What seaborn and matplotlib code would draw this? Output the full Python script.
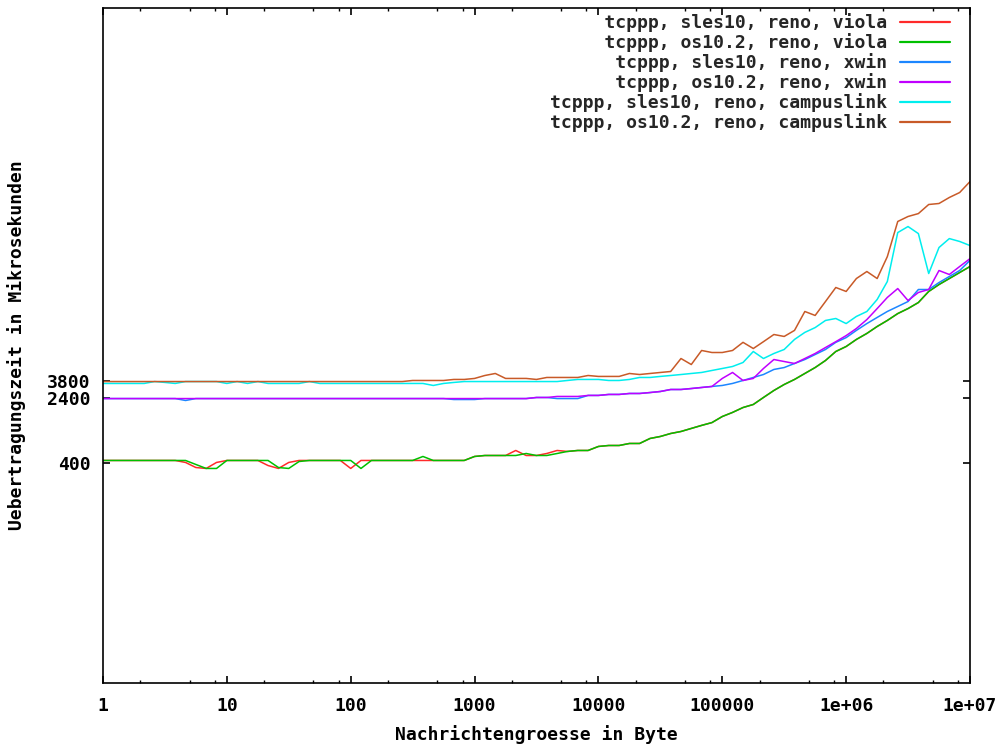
import matplotlib
matplotlib.use("Agg")
import matplotlib.pyplot as plt
import numpy as np
import pandas as pd
import seaborn as sns
from matplotlib.ticker import FixedLocator, FixedFormatter, NullLocator

# message sizes (bytes)
sizes = [
    1, 1.21, 1.47, 1.78, 2.15, 2.61, 3.16, 3.83, 4.64, 5.62, 6.81, 8.25,
    10, 12.1, 14.7, 17.8, 21.5, 26.1, 31.6, 38.3, 46.4, 56.2, 68.1, 82.5,
    100, 121, 147, 178, 215, 261, 316, 383, 464, 562, 681, 825,
    1000, 1210, 1470, 1780, 2150, 2610, 3160, 3830, 4640, 5620, 6810, 8250,
    10000, 12100, 14700, 17800, 21500, 26100, 31600, 38300, 46400, 56200, 68100, 82500,
    100000, 121000, 147000, 178000, 215000, 261000, 316000, 383000, 464000, 562000, 681000, 825000,
    1000000, 1210000, 1470000, 1780000, 2150000, 2610000, 3160000, 3830000, 4640000, 5620000, 6810000, 8250000,
    10000000,
]

sles10_viola = [
    434, 434, 434, 434, 434, 434, 434, 434, 411, 358, 349, 411,
    434, 434, 434, 434, 378, 349, 411, 434, 434, 434, 434, 434,
    349, 434, 434, 434, 434, 434, 434, 434, 434, 434, 434, 434,
    484, 497, 497, 497, 570, 497, 497, 525, 570, 555, 570, 570,
    636, 653, 653, 690, 690, 791, 835, 906, 957, 1040, 1130, 1220,
    1440, 1610, 1840, 2000, 2420, 2930, 3450, 3960, 4660, 5480, 6640, 8490,
    9730, 11800, 13900, 16800, 19800, 23900, 27400, 32300, 43700, 52800, 62200, 73300,
    86300,
]

os102_viola = [
    434, 434, 434, 434, 434, 434, 434, 434, 434, 389, 349, 349,
    434, 434, 434, 434, 434, 358, 349, 422, 434, 434, 434, 434,
    434, 349, 434, 434, 434, 434, 434, 484, 434, 434, 434, 434,
    484, 497, 497, 497, 497, 525, 497, 497, 525, 555, 570, 570,
    636, 653, 653, 690, 690, 791, 835, 906, 957, 1040, 1130, 1220,
    1440, 1610, 1840, 2000, 2420, 2930, 3450, 3960, 4660, 5480, 6640, 8490,
    9730, 11800, 13900, 16800, 19800, 23900, 27400, 32300, 43700, 52800, 62200, 73300,
    86300,
]

sles10_xwin = [
    2350, 2350, 2350, 2350, 2350, 2350, 2350, 2350, 2230, 2350, 2350, 2350,
    2350, 2350, 2350, 2350, 2350, 2350, 2350, 2350, 2350, 2350, 2350, 2350,
    2350, 2350, 2350, 2350, 2350, 2350, 2350, 2350, 2350, 2350, 2290, 2290,
    2290, 2350, 2350, 2350, 2350, 2350, 2420, 2420, 2350, 2350, 2350, 2560,
    2560, 2630, 2630, 2700, 2700, 2770, 2850, 3010, 3010, 3090, 3180, 3270,
    3360, 3550, 3850, 4180, 4530, 5200, 5480, 6120, 6820, 7820, 8970, 10900,
    12400, 15100, 18200, 21500, 25300, 29000, 33200, 46100, 46100, 55700, 65700, 77400,
    102000,
]

os102_xwin = [
    2350, 2350, 2350, 2350, 2350, 2350, 2350, 2350, 2350, 2350, 2350, 2350,
    2350, 2350, 2350, 2350, 2350, 2350, 2350, 2350, 2350, 2350, 2350, 2350,
    2350, 2350, 2350, 2350, 2350, 2350, 2350, 2350, 2350, 2350, 2350, 2350,
    2350, 2350, 2350, 2350, 2350, 2350, 2420, 2420, 2490, 2490, 2490, 2560,
    2560, 2630, 2630, 2700, 2700, 2770, 2850, 3010, 3010, 3090, 3180, 3270,
    4070, 4790, 3850, 4070, 5340, 6820, 6460, 6120, 7010, 8040, 9460, 11100,
    13100, 15900, 20300, 27400, 37100, 47300, 34100, 42500, 46100, 77400, 69400, 86300,
    107000,
]

sles10_campuslink = [
    3550, 3550, 3550, 3550, 3550, 3740, 3650, 3550, 3740, 3740, 3740, 3740,
    3550, 3740, 3550, 3740, 3550, 3550, 3550, 3550, 3740, 3550, 3550, 3550,
    3550, 3550, 3550, 3550, 3550, 3550, 3550, 3550, 3360, 3550, 3650, 3740,
    3740, 3740, 3740, 3740, 3740, 3740, 3740, 3740, 3740, 3850, 3960, 3960,
    3960, 3850, 3850, 3960, 4180, 4180, 4300, 4410, 4530, 4660, 4790, 5060,
    5340, 5640, 6290, 8490, 7010, 8040, 8970, 11800, 14300, 16300, 19800, 20900,
    18200, 22100, 25300, 35100, 57300, 218000, 257000, 212000, 71300, 145000, 185000, 171000,
    153000,
]

os102_campuslink = [
    3740, 3740, 3740, 3740, 3740, 3740, 3740, 3740, 3740, 3740, 3740, 3740,
    3740, 3740, 3740, 3740, 3740, 3740, 3740, 3740, 3740, 3740, 3740, 3740,
    3740, 3740, 3740, 3740, 3740, 3740, 3850, 3850, 3850, 3850, 3960, 3960,
    4070, 4410, 4660, 4070, 4070, 4070, 3960, 4180, 4180, 4180, 4180, 4410,
    4300, 4300, 4300, 4660, 4530, 4660, 4790, 4920, 7010, 5950, 8730, 8260,
    8260, 8730, 10900, 9210, 11100, 13500, 12800, 15100, 25300, 22700, 33200, 48700,
    43700, 62200, 75300, 62200, 113000, 295000, 338000, 366000, 469000, 482000, 568000, 650000,
    877000,
]

series_names = [
    "tcppp, sles10, reno, viola",
    "tcppp, os10.2, reno, viola",
    "tcppp, sles10, reno, xwin",
    "tcppp, os10.2, reno, xwin",
    "tcppp, sles10, reno, campuslink",
    "tcppp, os10.2, reno, campuslink",
]
series_values = [sles10_viola, os102_viola, sles10_xwin, os102_xwin,
                 sles10_campuslink, os102_campuslink]
colors = ["#ff2a2a", "#00c000", "#1c86ff", "#c000ff", "#00eeee", "#c85a28"]

x_tick_values = [1, 10, 100, 1000, 10000, 100000, 1000000, 10000000]
x_tick_labels = ["1", "10", "100", "1000", "10000", "100000", "1e+06", "1e+07"]
y_tick_values = [400, 2400, 3800]
y_tick_labels = ["400", "2400", "3800"]

frames = []
for name, vals in zip(series_names, series_values):
    frames.append(pd.DataFrame({"size": sizes, "time": vals, "series": name}))
df = pd.concat(frames, ignore_index=True)

sns.set_theme(style="white")
FONT = ["DejaVu Sans Mono"]
FS = 13
plt.rcParams["font.family"] = FONT
plt.rcParams["font.weight"] = "bold"

fig = plt.figure(figsize=(9.99, 7.45), dpi=100)
fig.patch.set_facecolor("white")
ax = fig.add_axes([103 / 999, (745 - 683) / 745, 867 / 999, 675 / 745])
ax.set_facecolor("white")

sns.lineplot(data=df, x="size", y="time", hue="series", hue_order=series_names,
             palette=colors, estimator=None, sort=False, linewidth=1.1, ax=ax)

ax.set_xscale("log")
ax.set_yscale("log")
ax.set_xlim(1, 1e7)
ax.set_ylim(1, 1e8)

ax.xaxis.set_major_locator(FixedLocator(x_tick_values))
ax.xaxis.set_major_formatter(FixedFormatter(x_tick_labels))
minor = [d * m for d in x_tick_values[:-1] for m in (2, 5, 8)]
ax.xaxis.set_minor_locator(FixedLocator(minor))
ax.yaxis.set_major_locator(FixedLocator(y_tick_values))
ax.yaxis.set_major_formatter(FixedFormatter(y_tick_labels))
ax.yaxis.set_minor_locator(NullLocator())

ax.tick_params(axis="both", which="major", direction="in", length=5, width=1.2,
               color="black", labelsize=FS, top=True, right=True,
               bottom=True, left=True)
ax.tick_params(axis="x", which="minor", direction="in", length=2.5, width=1.0,
               color="black", top=True, bottom=True)
ax.tick_params(axis="x", which="major", pad=10)
ax.tick_params(axis="y", which="major", pad=9)
for lab in ax.get_xticklabels() + ax.get_yticklabels():
    lab.set_fontweight("bold")
    lab.set_color("black")

for sp in ax.spines.values():
    sp.set_color("black")
    sp.set_linewidth(1.2)
    sp.set_visible(True)

ax.set_xlabel("Nachrichtengroesse in Byte", fontsize=FS, fontweight="bold",
              color="black", labelpad=7)
ax.set_ylabel("Uebertragungszeit in Mikrosekunden", fontsize=FS,
              fontweight="bold", color="black", labelpad=15)

handles, labels = ax.get_legend_handles_labels()
width = max(len(l) for l in labels)
leg = ax.legend(handles, [l.rjust(width) for l in labels], loc="upper right",
                bbox_to_anchor=(0.977, 0.992), frameon=False, markerfirst=False,
                handlelength=2.8, handletextpad=0.7, labelspacing=0.05,
                borderpad=0.0, borderaxespad=0.0,
                prop={"family": FONT, "weight": "bold", "size": FS})
for line in leg.get_lines():
    line.set_linewidth(1.6)

fig.savefig("out.png", dpi=100, facecolor="white")
